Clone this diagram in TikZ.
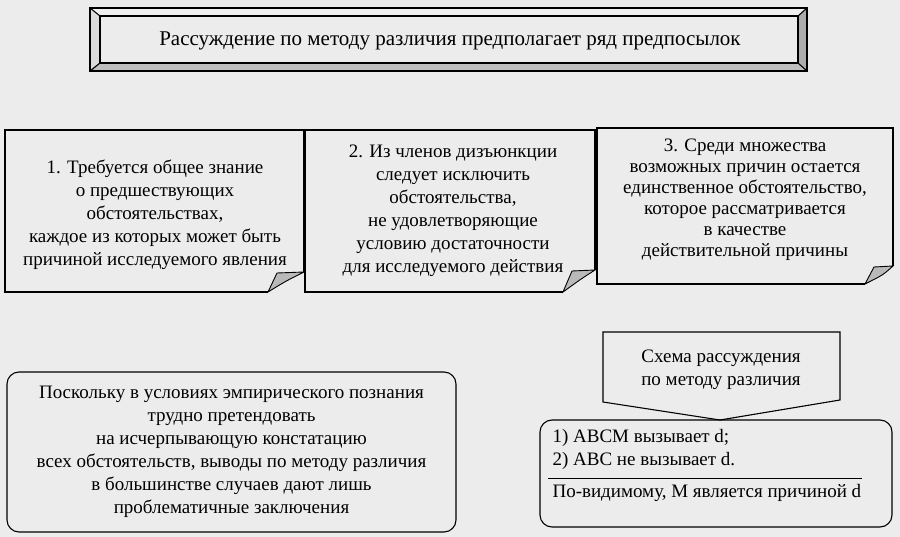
\documentclass[tikz,border=0pt]{standalone}
\usepackage{fontspec}
\setmainfont{Liberation Serif}
\definecolor{paper}{RGB}{236,236,236}
\begin{document}
\begin{tikzpicture}[x=1pt, y=-1pt, line width=1.1pt, font=\fontsize{19}{23}\selectfont,
  txt/.style={align=center, inner sep=0pt},
  flap/.style={fill=gray!55, draw=black, line width=0.9pt},
  roundbox/.style={draw, rounded corners=12pt, inner sep=0pt}]
\fill[paper] (0,0) rectangle (900,537);
\useasboundingbox (0,0) rectangle (900,537);

% bevelled frame on top
\fill[gray!12] (90,8) -- (807,8) -- (798,16) -- (100,16) -- cycle;
\fill[gray!28] (90,8) -- (100,16) -- (100,63) -- (90,71) -- cycle;
\fill[gray!50] (90,71) -- (100,63) -- (798,63) -- (807,71) -- cycle;
\fill[gray!65] (807,8) -- (798,16) -- (798,63) -- (807,71) -- cycle;
\draw (90,8) rectangle (807,71);
\draw (100,16) rectangle (798,63);
\draw (90,8) -- (100,16) (807,8) -- (798,16) (90,71) -- (100,63) (807,71) -- (798,63);
\node[txt, font=\fontsize{21}{25}\selectfont] at (450,41)(title1) {Рассуждение по методу различия предполагает ряд предпосылок};

% three folded sheets
\foreach \xa/\ya/\xb/\yb/\dx/\dy in {5/130/304/292/36/20, 305/130/595/292/32/22, 597/128/893/284/28/18}{
  \draw (\xb,\yb-\dy) -- (\xb,\ya) -- (\xa,\ya) -- (\xa,\yb) -- (\xb-\dx,\yb);
  \draw[flap] (\xb-\dx,\yb) -- (\xb-\dx+9,\yb-\dy+1) -- (\xb,\yb-\dy)
     .. controls (\xb-\dx+18,\yb-\dy+9) .. (\xb-\dx,\yb) -- cycle;
}
\node[txt] at (155,215)(prem1) {1. Требуется общее знание\\о предшествующих\\обстоятельствах,\\каждое из которых может быть\\причиной исследуемого явления};
\node[txt] at (453,211)(prem2) {2. Из членов дизъюнкции\\следует исключить\\обстоятельства,\\не удовлетворяющие\\условию достаточности\\для исследуемого действия};
\node[txt, font=\fontsize{19}{21}\selectfont] at (745,200)(prem3) {3. Среди множества\\возможных причин остается\\единственное обстоятельство,\\которое рассматривается\\в качестве\\действительной причины};

% conclusion note
\node[roundbox, minimum width=449pt, minimum height=160pt] at (231.5,452)(note1) {};
\node[txt] at (note1.center)(note1txt) {Поскольку в условиях эмпирического познания\\трудно претендовать\\на исчерпывающую констатацию\\всех обстоятельств, выводы по методу различия\\в большинстве случаев дают лишь\\проблематичные заключения};

% scheme
\draw (603,332) -- (840,332) -- (840,400) -- (720,420) -- (603,402) -- cycle;
\node[txt] at (721,370)(scheme1) {Схема рассуждения\\по методу различия};
\node[roundbox, minimum width=352pt, minimum height=107pt] at (716,473.5)(scheme2) {};
\node[inner sep=0pt, anchor=base west] at (552,442)(step1) {1) АВСМ вызывает d;};
\node[inner sep=0pt, anchor=base west] at (552,465)(step2) {2) АВС не вызывает d.};
\node[inner sep=0pt, anchor=base west] at (552,497)(concl1) {По-видимому, М является причиной d};
\draw[line width=0.9pt] (548,478) -- (862,478);
\end{tikzpicture}
\end{document}
